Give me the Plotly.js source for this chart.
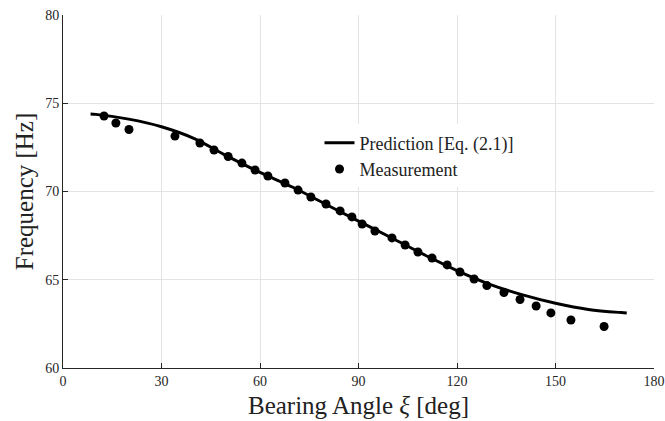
<!DOCTYPE html>
<html>
<head>
<meta charset="utf-8">
<script src="https://cdn.plot.ly/plotly-3.0.1.min.js"></script>
<style>
html,body{margin:0;padding:0;background:#fff;}
#chart{width:665px;height:421px;}
</style>
</head>
<body>
<div id="chart"></div>
<script>
// Prediction curve [Eq. (2.1)]
const predAngle = [8.4, 10, 20, 30, 40, 50, 60, 70, 80, 90, 100, 110, 120, 130, 140, 150, 160, 170, 171.7];
const predFreq  = [74.39, 74.37, 74.1, 73.67, 73.0, 72.0, 71.08, 70.24, 69.28, 68.32, 67.38, 66.42, 65.52, 64.74, 64.14, 63.67, 63.32, 63.14, 63.12];

// Measurements
const measAngle = [12.5, 16.1, 20.1, 34.1, 41.7, 46.0, 50.3, 54.5, 58.5, 62.4, 67.6, 71.6, 75.5, 80.1, 84.4, 88.0,
                   91.1, 95.0, 100.2, 104.2, 108.1, 112.4, 117.0, 120.9, 125.2, 129.1, 134.3, 139.2, 144.1, 148.6, 154.7, 164.8];
const measFreq  = [74.28, 73.88, 73.51, 73.14, 72.75, 72.35, 71.98, 71.61, 71.22, 70.88, 70.48, 70.08, 69.69, 69.29, 68.90, 68.56,
                   68.16, 67.76, 67.37, 66.97, 66.57, 66.23, 65.84, 65.44, 65.04, 64.67, 64.28, 63.88, 63.51, 63.12, 62.72, 62.35];

const xTicks = [0, 30, 60, 90, 120, 150, 180];
const yTicks = [60, 65, 70, 75, 80];

const serif = "Liberation Serif, DejaVu Serif, serif";

const traces = [
  {
    x: predAngle, y: predFreq, type: 'scatter', mode: 'lines',
    name: 'Prediction [Eq. (2.1)]',
    line: {color: '#000', width: 3, shape: 'spline', smoothing: 1}
  },
  {
    x: measAngle, y: measFreq, type: 'scatter', mode: 'markers',
    name: 'Measurement',
    marker: {color: '#000', size: 9}
  }
];

const axisCommon = {
  showgrid: true, gridcolor: '#e3e3e3', gridwidth: 1,
  showline: true, linecolor: '#262626', linewidth: 1,
  ticks: 'inside', ticklen: 5, tickcolor: '#262626', tickwidth: 1,
  zeroline: false,
  tickfont: {family: serif, size: 14, color: '#262626'}
};

const layout = {
  width: 665, height: 421,
  margin: {l: 63, r: 11, t: 15, b: 53},
  paper_bgcolor: '#fff', plot_bgcolor: '#fff',
  showlegend: true,
  legend: {
    x: 0.434, y: 0.69, xanchor: 'left', yanchor: 'top',
    bgcolor: '#fff', borderwidth: 0,
    font: {family: serif, size: 18, color: '#222'},
    tracegroupgap: 0, itemwidth: 30
  },
  xaxis: Object.assign({}, axisCommon, {
    range: [0, 180], tickvals: xTicks, ticktext: xTicks.map(String),
    title: {text: 'Bearing Angle <i>ξ</i> [deg]', font: {family: serif, size: 25, color: '#222'}, standoff: 8}
  }),
  yaxis: Object.assign({}, axisCommon, {
    range: [60, 80], tickvals: yTicks, ticktext: yTicks.map(String),
    title: {text: 'Frequency [Hz]', font: {family: serif, size: 25, color: '#222'}, standoff: 4}
  })
};

Plotly.newPlot('chart', traces, layout, {displayModeBar: false, staticPlot: true});
</script>
</body>
</html>
